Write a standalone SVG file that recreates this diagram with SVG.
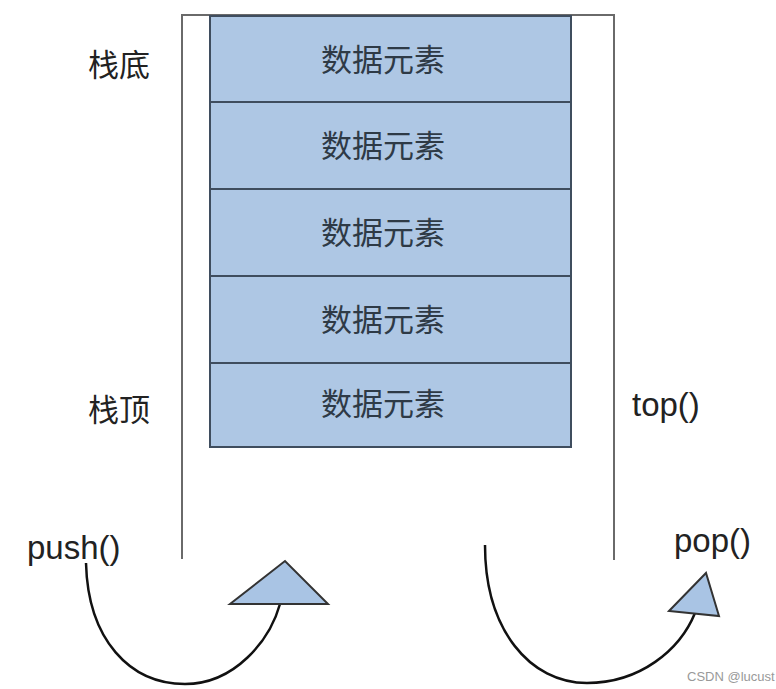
<svg xmlns="http://www.w3.org/2000/svg" width="776" height="689" viewBox="0 0 776 689">
<style>
.cell{fill:#aec7e4;stroke:#3f4d5e;stroke-width:2}
.ct{font-family:"Liberation Sans","Noto Sans CJK SC",sans-serif;font-size:31px;fill:#2e3a46;text-anchor:middle}
.lbl{font-family:"Liberation Sans","Noto Sans CJK SC",sans-serif;font-size:31px;fill:#222}
.fn{font-family:"Liberation Sans",sans-serif;font-size:33px;fill:#222}
.wall{stroke:#6a6a6a;stroke-width:2;fill:none}
.arc{stroke:#111;stroke-width:2.5;fill:none}
.tri{fill:#a9c4e4;stroke:#333;stroke-width:2;stroke-linejoin:miter}
</style>
<rect width="776" height="689" fill="#fff"/>
<g id="container">
<polyline class="wall" points="182,559 182,15 614,15 614,560"/>
</g>
<g id="stack">
<g id="cell1"><rect class="cell" x="210" y="16" width="361" height="86"/><text class="ct" x="383" y="71">数据元素</text></g>
<g id="cell2"><rect class="cell" x="210" y="102" width="361" height="87"/><text class="ct" x="383" y="157">数据元素</text></g>
<g id="cell3"><rect class="cell" x="210" y="189" width="361" height="87"/><text class="ct" x="383" y="244">数据元素</text></g>
<g id="cell4"><rect class="cell" x="210" y="276" width="361" height="87"/><text class="ct" x="383" y="331">数据元素</text></g>
<g id="cell5"><rect class="cell" x="210" y="363" width="361" height="84"/><text class="ct" x="383" y="415">数据元素</text></g>
</g>
<g id="labels">
<text class="lbl" x="88" y="76">栈底</text>
<text class="lbl" x="88" y="421">栈顶</text>
<text class="fn" x="632" y="416">top()</text>
<text class="fn" x="27" y="559">push()</text>
<text class="fn" x="674" y="552">pop()</text>
</g>
<g id="connectors">
<path class="arc" d="M86,563 C88,640 130,684 185,684 C235,684 270,640 280,604"/>
<polygon class="tri" points="230,604 285,561 328,604"/>
<path class="arc" d="M485,545 C485,630 530,683 587,683 C640,683 680,650 695,613"/>
<polygon class="tri" points="669,611 706,573 719,616"/>
</g>
<text x="687" y="681" font-family="Liberation Sans,sans-serif" font-size="13" fill="#999">CSDN @lucust</text>
</svg>
